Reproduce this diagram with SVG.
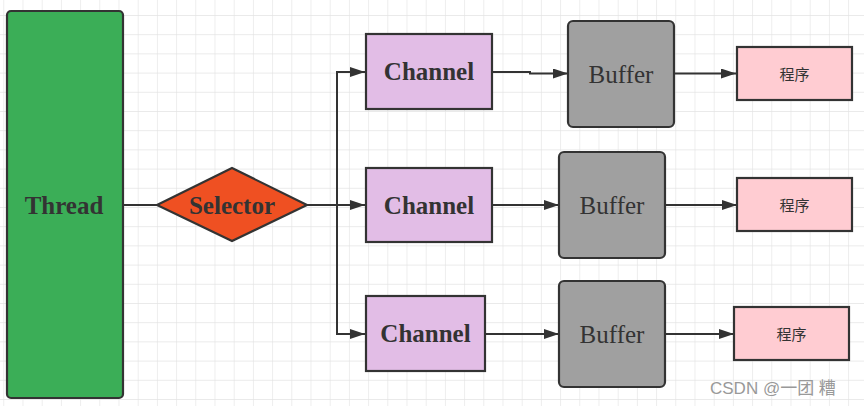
<svg xmlns="http://www.w3.org/2000/svg" width="864" height="406" viewBox="0 0 864 406">
<style>
.n{stroke:#333;stroke-width:2.2}
.t{font-family:"Liberation Serif","Times New Roman",serif;font-size:25px;fill:#333;text-anchor:middle;dominant-baseline:central}
.b{font-weight:bold}
.c{font-family:"Noto Sans CJK SC","Noto Sans",sans-serif;font-size:15px;fill:#333;text-anchor:middle;dominant-baseline:central}
.l{fill:none;stroke:#333;stroke-width:2}
</style>
<defs>
<pattern id="grid" x="3.3" y="15" width="19.2" height="19.2" patternUnits="userSpaceOnUse">
<path d="M0 0H19.2M0 0V19.2" fill="none" stroke="#e3e3e3" stroke-width="1.2"/>
</pattern>
<marker id="ar" markerWidth="15" markerHeight="10" refX="15" refY="5" orient="auto" markerUnits="userSpaceOnUse">
<path d="M0 0L15 5L0 10Z" fill="#333"/>
</marker>
</defs>
<rect width="864" height="406" fill="#fff"/>
<rect width="864" height="406" fill="url(#grid)"/>
<g id="connectors">
<path class="l" d="M123 205H157"/>
<path class="l" d="M307 205H365" marker-end="url(#ar)"/>
<path class="l" d="M337 205V72H365" marker-end="url(#ar)"/>
<path class="l" d="M337 205V334H365" marker-end="url(#ar)"/>
<path class="l" d="M492 72H530V73.5H568" marker-end="url(#ar)"/>
<path class="l" d="M674 73.5H736" marker-end="url(#ar)"/>
<path class="l" d="M492 205H559" marker-end="url(#ar)"/>
<path class="l" d="M665 205H737" marker-end="url(#ar)"/>
<path class="l" d="M485 334H559" marker-end="url(#ar)"/>
<path class="l" d="M665 334H734" marker-end="url(#ar)"/>
</g>
<g id="thread"><rect class="n" x="7" y="11" width="116" height="387" rx="4" fill="#3bae57"/><text class="t b" x="64" y="205">Thread</text></g>
<g id="selector"><path class="n" d="M157 205L232 168L307 205L232 241Z" fill="#ef5022"/><text class="t b" x="232" y="205">Selector</text></g>
<g id="channel1"><rect class="n" x="366" y="34" width="126" height="75" fill="#e2bde6"/><text class="t b" x="429" y="71.5">Channel</text></g>
<g id="channel2"><rect class="n" x="366" y="168" width="126" height="74" fill="#e2bde6"/><text class="t b" x="429" y="205">Channel</text></g>
<g id="channel3"><rect class="n" x="366" y="296" width="119" height="75" fill="#e2bde6"/><text class="t b" x="425.5" y="333.5">Channel</text></g>
<g id="buffer1"><rect class="n" x="568" y="21" width="106" height="106" rx="5" fill="#a0a0a0"/><text class="t" x="621" y="74">Buffer</text></g>
<g id="buffer2"><rect class="n" x="559" y="152" width="106" height="106" rx="5" fill="#a0a0a0"/><text class="t" x="612" y="205">Buffer</text></g>
<g id="buffer3"><rect class="n" x="559" y="281" width="106" height="106" rx="5" fill="#a0a0a0"/><text class="t" x="612" y="334">Buffer</text></g>
<g id="prog1"><rect class="n" x="737" y="47" width="115" height="53" fill="#ffccd2"/><text class="c" x="794.5" y="73.5">程序</text></g>
<g id="prog2"><rect class="n" x="737" y="178" width="115" height="53" fill="#ffccd2"/><text class="c" x="794.5" y="204.5">程序</text></g>
<g id="prog3"><rect class="n" x="734" y="307" width="115" height="53" fill="#ffccd2"/><text class="c" x="791.5" y="333.5">程序</text></g>
<text x="710" y="394" font-family="'Liberation Sans','Noto Sans CJK SC',sans-serif" font-size="17" fill="#999">CSDN @一团 糟</text>
</svg>
